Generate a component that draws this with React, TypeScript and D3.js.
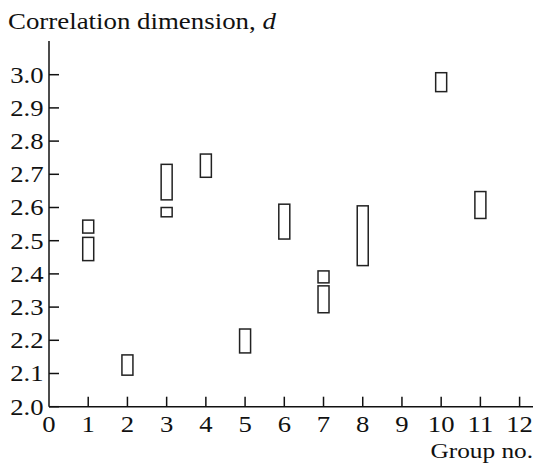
import React from "react";
import * as d3 from "d3";

// groups, each box is [low, high] of correlation dimension
const groups = [1, 1, 2, 3, 3, 4, 5, 6, 7, 7, 8, 10, 11];
const lows = [2.523, 2.44, 2.095, 2.572, 2.623, 2.691, 2.162, 2.505, 2.373, 2.283, 2.425, 2.949, 2.567];
const highs = [2.562, 2.51, 2.156, 2.6, 2.73, 2.761, 2.234, 2.61, 2.409, 2.364, 2.605, 3.006, 2.648];

const xTicks = d3.range(0, 13);
const yTicks = d3.range(2.0, 3.05, 0.1);

const width = 535;
const height = 464;

// the type in the figure is a bit wide, so stretch it
const SText = ({ x, y, anchor = "start", size = 23, stretch = 1.16, children }) => (
  <text
    transform={`translate(${x},${y}) scale(${stretch},1)`}
    fontSize={size}
    textAnchor={anchor}
    fill="#111"
    style={{ fontFamily: '"Liberation Serif"' }}
  >
    {children}
  </text>
);

export default function App() {
  const x = d3.scaleLinear().domain([0, 12]).range([49, 519.6]);
  const y = d3.scaleLinear().domain([2.0, 3.0]).range([406.7, 74.7]);
  const boxW = 11;

  return (
    <svg
      width={width}
      height={height}
      style={{ position: "absolute", left: 0, top: 0, background: "#fff" }}
    >
      <SText x={8} y={28.5} size={24} stretch={1.12}>
        Correlation dimension, <tspan fontStyle="italic">d</tspan>
      </SText>

      {/* axes */}
      <line x1={x(0)} x2={x(0)} y1={41} y2={y(2.0)} stroke="#111" strokeWidth={1.5} />
      <line x1={x(0)} x2={533} y1={y(2.0)} y2={y(2.0)} stroke="#111" strokeWidth={1.5} />

      {yTicks.map((t) => (
        <g key={"y" + t}>
          <line x1={x(0)} x2={x(0) + 10} y1={y(t)} y2={y(t)} stroke="#111" strokeWidth={1.5} />
          <SText x={43.5} y={y(t) + 7.8} anchor="end">
            {d3.format(".1f")(t)}
          </SText>
        </g>
      ))}

      {xTicks.map((t) => (
        <g key={"x" + t}>
          {t > 0 && (
            <line x1={x(t)} x2={x(t)} y1={y(2.0)} y2={y(2.0) - 10} stroke="#111" strokeWidth={1.5} />
          )}
          <SText x={x(t)} y={431.7} anchor="middle">
            {t}
          </SText>
        </g>
      ))}

      <SText x={533} y={458.3} anchor="end" size={22} stretch={1.15}>
        Group no.
      </SText>

      {groups.map((g, i) => (
        <rect
          key={"b" + i}
          x={x(g) - boxW / 2}
          y={y(highs[i])}
          width={boxW}
          height={y(lows[i]) - y(highs[i])}
          fill="none"
          stroke="#222"
          strokeWidth={1.5}
        />
      ))}
    </svg>
  );
}
